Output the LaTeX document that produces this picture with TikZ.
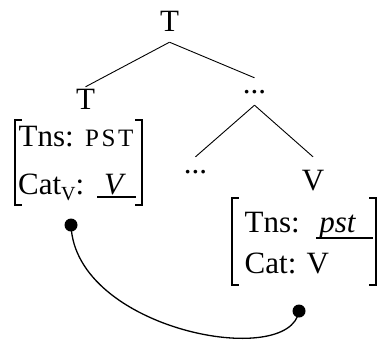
\documentclass[tikz,border=0pt]{standalone}
\usepackage{fontspec}
\setmainfont{Liberation Serif}
\begin{document}
\begin{tikzpicture}[x=1pt,y=-1pt,
  lab/.style={inner sep=0pt,anchor=base,font=\fontsize{31}{31}\selectfont},
  txt/.style={inner sep=0pt,anchor=base west,font=\fontsize{31}{31}\selectfont},
  branch/.style={line width=0.9pt},
  bracket/.style={line width=1.8pt},
  uline/.style={line width=2pt},
  fbox/.style={inner sep=0pt,rectangle},
  dot/.style={circle,fill=black,inner sep=0pt,minimum size=13pt},
  link/.style={line width=1.3pt}]
\useasboundingbox (0,0) rectangle (379,343);
% tree nodes
\node[lab,text depth=11pt] (tT) at (169.5,31) {T};
\node[lab,text height=22pt] (lT) at (85.5,109) {T};
\node[lab,text height=15.5pt,text depth=11.5pt] (ud) at (254.5,93.5) {...};
\node[lab,text height=16.5pt] (ld) at (195.5,173.5) {...};
\node[lab,text height=33pt] (vV) at (313,190) {V};
\draw[branch] (tT.south) -- (lT.north);
\draw[branch] (tT.south) -- (ud.north);
\draw[branch] (ud.south) -- (ld.north);
\draw[branch] (ud.south) -- (vV.north);
% left feature box
\node[fbox,minimum width=127pt,minimum height=85pt] (lbox) at (78.5,162.5) {};
\draw[bracket] ([xshift=7pt]lbox.north west) -- (lbox.north west) -- (lbox.south west) -- ([xshift=7pt]lbox.south west);
\draw[bracket] ([xshift=-7pt]lbox.north east) -- (lbox.north east) -- (lbox.south east) -- ([xshift=-7pt]lbox.south east);
\node[txt] (ltns) at (18.5,146) {Tns:};
\node[txt,font=\fontsize{25}{25}\selectfont] (lpst) at (85,146) {P\kern2.5pt S\kern2.5pt T};
\node[txt] (lcat) at (18,194) {Cat\raisebox{-6pt}{\fontsize{20}{20}\selectfont V}:};
\node[lab] (lv) at (113.5,194) {\itshape V};
\coordinate (lu1) at (97,196.5);
\coordinate (lu2) at (136,196.5);
\draw[uline] (lu1) -- (lu2);
% right feature box
\node[fbox,minimum width=144pt,minimum height=87pt] (rbox) at (304,241.5) {};
\draw[bracket] ([xshift=7pt]rbox.north west) -- (rbox.north west) -- (rbox.south west) -- ([xshift=7pt]rbox.south west);
\draw[bracket] ([xshift=-7pt]rbox.north east) -- (rbox.north east) -- (rbox.south east) -- ([xshift=-7pt]rbox.south east);
\node[txt] (rtns) at (244.5,232) {Tns:};
\node[lab] (rpst) at (337.5,232) {\itshape pst};
\coordinate (ru1) at (316,237.5);
\coordinate (ru2) at (373,237.5);
\draw[uline] (ru1) -- (ru2);
\node[txt] (rcat) at (244.5,273) {Cat: V};
% dots and link
\node[dot] (d1) at (71,225) {};
\node[dot] (d2) at (299,311) {};
\draw[link] (d1.center) .. controls (75,330) and (290,370) .. (d2.center);
\end{tikzpicture}
\end{document}
